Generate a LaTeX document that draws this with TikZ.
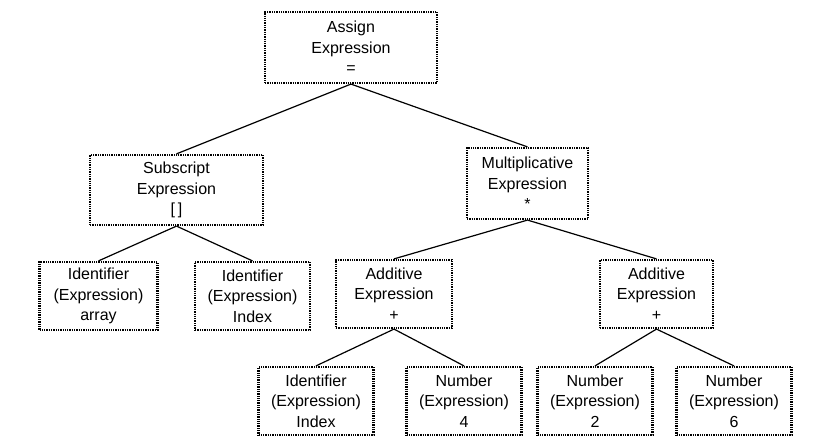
\documentclass[tikz,border=0pt]{standalone}
\usepackage{fontspec}
\setmainfont{Liberation Sans}
\begin{document}
\begin{tikzpicture}[x=1pt,y=1pt,
  box/.style={draw=black, line width=2.2pt, dash pattern=on 1.3pt off 1pt,
    inner sep=0pt, align=center, font=\fontsize{16}{20.5}\selectfont,
    minimum height=68pt},
  edge/.style={draw=black, line width=1.2pt}]
\useasboundingbox[fill=white] (0,0) rectangle (829,438);
\node[box, minimum width=172pt, minimum height=71pt] (assign) at (351,390.5) {Assign\\Expression\\=};
\node[box, minimum width=173pt, minimum height=70pt] (sub) at (176.5,248) {Subscript\\Expression\\{[\,]}};
\node[box, minimum width=121pt, minimum height=71pt] (mult) at (527.5,254.5) {Multiplicative\\Expression\\*};
\node[box, minimum width=118pt] (id1) at (98.5,142) {Identifier\\(Expression)\\array};
\node[box, minimum width=115pt] (id2) at (252.5,142) {Identifier\\(Expression)\\Index};
\node[box, minimum width=116pt] (add1) at (394,144) {Additive\\Expression\\+};
\node[box, minimum width=113pt] (add2) at (656.5,144) {Additive\\Expression\\+};
\node[box, minimum width=115pt] (id3) at (316,37) {Identifier\\(Expression)\\Index};
\node[box, minimum width=115pt] (num4) at (464,37) {Number\\(Expression)\\4};
\node[box, minimum width=115pt] (num2) at (595,37) {Number\\(Expression)\\2};
\node[box, minimum width=115pt] (num6) at (734,37) {Number\\(Expression)\\6};
\draw[edge] (assign.south) -- (sub.north);
\draw[edge] (assign.south) -- (mult.north);
\draw[edge] (sub.south) -- (id1.north);
\draw[edge] (sub.south) -- (id2.north);
\draw[edge] (mult.south) -- (add1.north);
\draw[edge] (mult.south) -- (add2.north);
\draw[edge] (add1.south) -- (id3.north);
\draw[edge] (add1.south) -- (num4.north);
\draw[edge] (add2.south) -- (num2.north);
\draw[edge] (add2.south) -- (num6.north);
\end{tikzpicture}
\end{document}
